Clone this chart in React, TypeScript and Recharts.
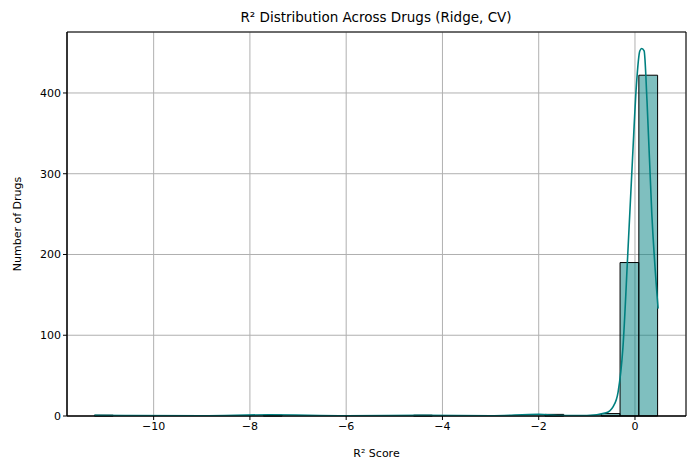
import React from "react";
import {
	ComposedChart,
	Line,
	XAxis,
	YAxis,
	CartesianGrid,
	ReferenceArea,
} from "recharts";

const binStart = -11.23;
const binWidth = 0.39;
// counts per bin (30 bins)
const binCounts = [
	1, 0, 0, 0, 0, 0, 0, 0, 0, 1, 0, 0, 0, 0, 0, 0, 0, 1, 0, 0, 0, 0, 0, 0, 2, 0, 0,
	3, 190, 422,
];

const kdeX = [
	-11.23, -10.5, -9, -7.6, -6, -4.4, -3, -2, -1.5, -1, -0.6, -0.45, -0.35, -0.25,
	-0.15, -0.05, 0.03, 0.1, 0.14, 0.19, 0.25, 0.35, 0.48,
];
const kdeY = [
	1, 0.5, 0.3, 1.5, 0.3, 1, 0.3, 2, 0.5, 0.5, 4, 12, 30, 85, 200, 320, 410, 452,
	455, 452, 390, 250, 133,
];

const xTicks = [-10, -8, -6, -4, -2, 0];
const yTicks = [0, 100, 200, 300, 400];

const kdeData = kdeX.map((x, i) => ({ x, y: kdeY[i] }));
const font = "DejaVu Sans, sans-serif";

export default function App() {
	return (
		<div style={{ position: "absolute", left: 0, top: 0, fontFamily: font }}>
			<ComposedChart
				width={695}
				height={469}
				data={kdeData}
				margin={{ top: 32, right: 9, bottom: 0, left: 0 }}
			>
				<text x={376} y={22} textAnchor="middle" fontSize={13.5} fill="#000">
					R² Distribution Across Drugs (Ridge, CV)
				</text>
				<CartesianGrid stroke="#b0b0b0" />
				<XAxis
					dataKey="x"
					type="number"
					domain={[-11.8, 1.06]}
					ticks={xTicks}
					tickFormatter={(v) => String(v).replace("-", "−")}
					stroke="#000"
					tick={{ fill: "#000", fontSize: 11 }}
					tickSize={4}
					height={53}
					allowDataOverflow
					label={{ value: "R² Score", position: "insideBottom", offset: 12, fill: "#000", fontSize: 11 }}
				/>
				<YAxis
					type="number"
					domain={[0, 475.5]}
					ticks={yTicks}
					stroke="#000"
					tick={{ fill: "#000", fontSize: 11 }}
					tickSize={4}
					width={67}
					allowDataOverflow
					label={{ value: "Number of Drugs", angle: -90, position: "insideLeft", offset: 17, fill: "#000", fontSize: 11, style: { textAnchor: "middle" } }}
				/>
				{binCounts.map((c, i) =>
					c > 0 ? (
						<ReferenceArea
							key={i}
							x1={binStart + i * binWidth}
							x2={binStart + (i + 1) * binWidth}
							y1={0}
							y2={c}
							fill="#008080"
							fillOpacity={0.5}
							stroke="#000"
							strokeWidth={1}
							strokeOpacity={1}
							ifOverflow="visible"
						/>
					) : null
				)}
				<Line
					dataKey="y"
					type="monotone"
					stroke="#008080"
					strokeWidth={1.6}
					dot={false}
					isAnimationActive={false}
				/>
				<ReferenceArea
					x1={-11.8}
					x2={1.06}
					y1={0}
					y2={475.5}
					fill="none"
					stroke="#000"
					strokeOpacity={1}
					ifOverflow="visible"
				/>
			</ComposedChart>
		</div>
	);
}
